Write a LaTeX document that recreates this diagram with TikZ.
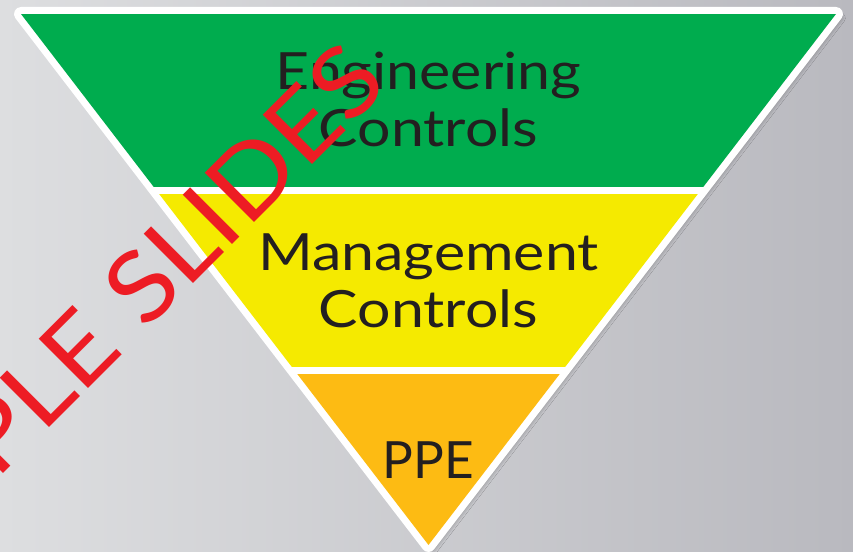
\documentclass[tikz,border=0pt]{standalone}
\usepackage{fontspec}
\setmainfont{Lato}
\newfontfamily\widelabel[FakeStretch=1.15]{Lato}
\newfontfamily\wmface[FakeStretch=1.11]{Lato}
\usetikzlibrary{shadows.blur}

\definecolor{bandgreen}{HTML}{00AC4E}
\definecolor{bandyellow}{HTML}{F5EA00}
\definecolor{bandorange}{HTML}{FDBB13}
\definecolor{labelink}{HTML}{231F20}
\definecolor{wmred}{HTML}{ED1C24}
\definecolor{bgleft}{HTML}{DDDEE0}
\definecolor{bgmid}{HTML}{D2D2D5}
\definecolor{bgright}{HTML}{B9B9BF}

\tikzset{
  bandlabel/.style={anchor=base, align=center, inner sep=0pt, text=labelink,
    font=\fontsize{38.5}{42.75}\selectfont},
  widebandlabel/.style={bandlabel, font=\widelabel\fontsize{38.5}{42.75}\selectfont},
  watermark/.style={rotate=45, anchor=base east, inner sep=0pt, text=wmred,
    font=\wmface\fontsize{73}{73}\selectfont},
}

\begin{document}
\begin{tikzpicture}[x=0.75pt, y=-0.75pt]
  % canvas and grey backdrop
  \useasboundingbox (0,0) rectangle (853,552);
  \shade[left color=bgleft, middle color=bgmid, right color=bgright]
    (0,0) rectangle (853,552);

  % corners of the inverted triangle (coloured area)
  \coordinate (tl) at (21,14);
  \coordinate (tr) at (836,14);
  \coordinate (apex) at (428.5,545);

  % white frame with soft drop shadow
  \filldraw[white, line width=10.5pt, line join=round,
    blur shadow={shadow xshift=3pt, shadow yshift=-3pt,
      shadow blur radius=4pt, shadow opacity=45}]
    (tl) -- (tr) -- (apex) -- cycle;

  % three bands separated by white gaps
  \begin{scope}
    \clip (tl) -- (tr) -- (apex) -- cycle;
    \fill[bandgreen]  (0,14)  rectangle (853,187);
    \fill[bandyellow] (0,194) rectangle (853,367);
    \fill[bandorange] (0,374) rectangle (853,546);
  \end{scope}

  % band labels (anchored on the baseline of their last line)
  \node[widebandlabel] (eng) at (428.5,147) {Engineering\\Controls};
  \node[widebandlabel] (mgmt) at (428.5,327) {Management\\Controls};
  \node[bandlabel] (ppe) at (428.5,478) {PPE};

  % diagonal watermark
  \node[watermark] (wm) at (391,86) {SAMPLE SLIDES};
\end{tikzpicture}
\end{document}
